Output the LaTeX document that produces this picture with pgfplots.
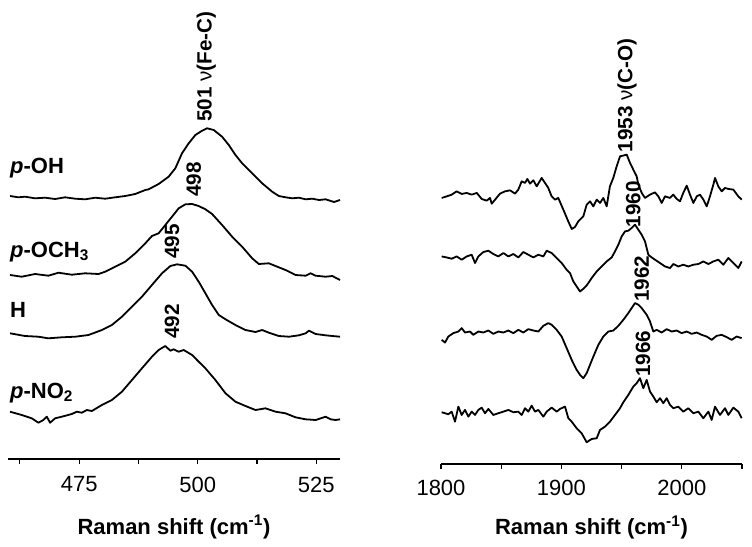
\documentclass[border=0pt]{standalone}
\usepackage{fontspec}
\setmainfont{Liberation Sans}
\usepackage{pgfplots}
\pgfplotsset{compat=1.18}

\pgfplotsset{
  spec/.style={
    scale only axis, clip=false,
    axis x line=bottom, axis y line=none,
    x axis line style={-, line width=0.9pt},
    tick align=outside,
    major tick length=3.75pt, minor tick length=3.75pt,
    every tick/.style={black, line width=0.9pt},
    /pgf/number format/assume math mode=true,
    /pgf/number format/1000 sep={},
    xticklabel style={font=\fontsize{16.5}{19}\selectfont, yshift=-6pt},
    xlabel style={font=\bfseries\fontsize{16.5}{19}\selectfont, anchor=center},
  },
  curve/.style={black, line width=1.35pt, line join=round, mark=none},
}
\tikzset{
  pk/.style={rotate=90, anchor=west, inner sep=0pt, font=\bfseries\fontsize{15.5}{18}\selectfont},
  row/.style={anchor=base west, inner sep=0pt, font=\bfseries\fontsize{16.5}{19}\selectfont},
}

\begin{document}
\begin{tikzpicture}
\path[use as bounding box] (0pt,0pt) rectangle (564pt,-409.5pt);

% ---------------- left panel ----------------
\begin{axis}[spec,
  at={(6pt,-344.25pt)}, anchor=south west,
  width=249pt, height=344.25pt,
  xmin=460, xmax=530, ymin=-459, ymax=0,
  xtick={475,500,525}, minor xtick={462.5,487.5,512.5},
  xlabel={Raman shift (cm\textsuperscript{-1})},
  xlabel style={at={(axis description cs:0.5,0)}, yshift=-51pt},
]
% p-OH
\addplot[curve] coordinates {
(460.43,-196.0)(462.19,-197.3)(463.59,-196.7)(465.71,-198.3)(467.82,-197.7)
(469.93,-199.0)(472.04,-197.3)(474.16,-198.7)(476.27,-199.3)(478.38,-197.7)
(480.49,-198.7)(482.61,-197.3)(484.72,-196.0)(486.83,-194.0)(488.95,-190.0)
(489.65,-189.3)(491.76,-184.0)(493.87,-176.7)(495.28,-168.3)(496.69,-153.3)
(498.10,-143.3)(499.51,-135.0)(500.92,-130.7)(501.97,-128.3)(503.38,-130.0)
(505.14,-136.7)(506.55,-145.0)(507.96,-155.0)(509.37,-163.3)(511.48,-173.3)
(513.59,-183.3)(515.70,-191.7)(517.11,-196.0)(518.52,-197.3)(519.93,-198.3)
(521.34,-197.7)(522.75,-199.3)(524.16,-198.7)(525.57,-200.0)(526.97,-199.3)
(528.73,-202.0)(530.00,-200.0)
};
% p-OCH3
\addplot[curve] coordinates {
(460.43,-275.0)(462.89,-276.7)(465.71,-274.0)(468.52,-275.7)(470.64,-272.7)
(473.45,-274.7)(476.27,-273.3)(479.09,-274.0)(480.49,-271.7)(482.61,-266.7)
(484.72,-261.7)(486.83,-253.3)(488.95,-243.3)(490.35,-236.0)(491.76,-233.3)
(493.17,-225.0)(494.58,-216.7)(495.99,-208.3)(497.40,-204.3)(498.81,-204.0)
(500.21,-206.0)(501.62,-209.3)(503.03,-214.0)(505.14,-225.0)(507.26,-236.7)
(509.37,-246.7)(511.48,-258.3)(512.89,-264.0)(515.00,-263.3)(516.41,-266.0)
(518.52,-270.0)(520.63,-275.0)(522.75,-275.7)(523.80,-273.3)(524.86,-275.7)
(526.97,-276.7)(528.38,-276.0)(530.00,-280.0)
};
% H
\addplot[curve] coordinates {
(460.43,-333.3)(463.59,-336.0)(466.41,-336.7)(468.52,-338.3)(471.34,-337.3)
(474.16,-336.7)(476.97,-335.0)(479.79,-330.0)(481.90,-325.0)(484.02,-316.7)
(486.13,-306.7)(488.24,-296.7)(490.35,-285.0)(492.47,-273.3)(494.23,-266.0)
(495.64,-264.3)(497.40,-265.7)(498.81,-271.7)(500.21,-281.7)(501.62,-293.3)
(503.03,-305.0)(504.45,-315.0)(505.86,-319.3)(507.96,-325.0)(510.07,-330.0)
(512.19,-332.0)(513.59,-330.0)(515.00,-332.7)(517.11,-336.0)(519.23,-336.7)
(521.34,-335.3)(522.75,-333.3)(523.45,-330.7)(524.86,-334.0)(526.97,-335.3)
(528.38,-336.0)(530.00,-336.7)
};
% p-NO2
\addplot[curve] coordinates {
(460.43,-411.7)(462.89,-415.0)(465.00,-418.3)(466.41,-422.7)(467.47,-420.0)
(468.17,-416.7)(468.88,-422.7)(469.93,-418.3)(471.34,-416.7)(473.45,-414.0)
(474.51,-411.7)(475.57,-412.7)(476.62,-410.0)(477.68,-411.0)(479.79,-405.0)
(481.90,-400.0)(484.02,-391.7)(486.13,-380.0)(488.24,-368.3)(490.35,-356.7)
(491.76,-350.0)(493.17,-346.0)(494.23,-350.7)(494.93,-349.3)(495.99,-351.7)
(497.04,-350.0)(498.81,-355.0)(500.21,-361.7)(501.62,-368.3)(503.73,-380.0)
(505.86,-393.3)(507.96,-401.7)(510.07,-406.0)(512.19,-410.0)(514.30,-408.3)
(516.41,-411.7)(518.52,-413.3)(520.63,-417.3)(522.75,-419.3)(524.86,-420.0)
(526.97,-416.7)(528.03,-419.3)(529.08,-420.0)(530.00,-419.3)
};
\node[pk] at (axis cs:501.8,-122) {501 {\mdseries ν}(Fe-C)};
\node[pk] at (axis cs:499.15,-197) {498};
\node[pk] at (axis cs:494.6,-259) {495};
\node[pk] at (axis cs:494.6,-339) {492};
\node[row] at (axis cs:460.4,-173) {\textit{p}-OH};
\node[row] at (axis cs:460.4,-257) {\textit{p}-OCH\textsubscript{3}};
\node[row] at (axis cs:460.4,-317) {H};
\node[row] at (axis cs:460.4,-398) {\textit{p}-NO\textsubscript{2}};
\end{axis}

% ---------------- right panel ----------------
\begin{axis}[spec,
  at={(330.75pt,-348pt)}, anchor=south west,
  width=225.75pt, height=348pt,
  xmin=1800, xmax=2050, ymin=-464, ymax=0,
  xtick={1800,1900,2000}, minor xtick={1850,1950,2050},
  xlabel={Raman shift (cm\textsuperscript{-1})},
  xlabel style={at={(axis description cs:0.5,0)}, yshift=-47.5pt},
  xticklabel style={yshift=1pt},
]
% p-OH
\addplot[curve] coordinates {
(1800.6,-198.3)(1804.7,-196.7)(1808.9,-195.0)(1813.0,-191.7)(1817.2,-194.3)
(1821.3,-193.3)(1825.5,-195.0)(1829.7,-193.3)(1833.8,-199.3)(1838.0,-201.0)
(1840.7,-198.3)(1842.1,-204.0)(1844.9,-200.0)(1849.0,-194.0)(1853.2,-191.7)
(1857.3,-190.7)(1861.5,-194.0)(1864.2,-190.0)(1867.0,-181.7)(1869.8,-183.3)
(1871.7,-179.3)(1873.9,-184.0)(1876.7,-180.7)(1879.5,-186.7)(1883.6,-178.3)
(1886.4,-183.3)(1889.1,-188.3)(1891.9,-196.7)(1894.7,-200.0)(1897.4,-198.3)
(1901.6,-210.0)(1905.7,-221.7)(1908.6,-229.3)(1911.3,-227.3)(1914.0,-221.7)
(1918.2,-216.7)(1921.0,-205.0)(1923.8,-201.7)(1926.5,-206.7)(1929.3,-200.0)
(1932.1,-203.3)(1934.8,-198.3)(1937.6,-206.7)(1940.3,-186.7)(1943.1,-178.3)
(1945.9,-166.7)(1948.7,-156.7)(1951.4,-156.0)(1954.2,-155.0)(1957.0,-163.3)
(1959.7,-170.0)(1962.5,-176.7)(1963.9,-185.0)(1966.7,-193.3)(1969.4,-198.3)
(1973.6,-195.0)(1977.7,-192.7)(1980.5,-196.7)(1983.3,-203.3)(1986.0,-196.7)
(1990.2,-198.3)(1992.9,-195.0)(1995.8,-199.3)(1998.5,-201.7)(2001.2,-193.3)
(2004.1,-186.0)(2006.8,-195.0)(2009.6,-203.3)(2012.4,-196.7)(2015.1,-195.0)
(2017.9,-200.0)(2020.7,-206.7)(2023.4,-196.7)(2026.2,-185.0)(2027.6,-178.3)
(2030.3,-186.7)(2033.1,-191.7)(2035.9,-188.3)(2038.6,-189.3)(2042.8,-190.0)
(2046.9,-196.7)(2049.8,-200.0)
};
% p-OCH3
\addplot[curve] coordinates {
(1800.55,-256.7)(1804.71,-257.7)(1808.86,-259.0)(1813.01,-256.7)(1817.17,-260.0)
(1821.32,-256.7)(1825.47,-255.0)(1828.24,-263.3)(1831.01,-256.7)(1835.16,-252.3)
(1839.32,-251.0)(1843.47,-254.3)(1847.62,-256.7)(1851.77,-253.3)(1855.93,-256.7)
(1860.08,-254.3)(1864.23,-257.7)(1868.38,-252.3)(1872.53,-255.0)(1876.69,-257.7)
(1880.84,-255.0)(1884.99,-256.7)(1887.76,-251.0)(1891.92,-253.3)(1896.07,-258.3)
(1900.22,-263.3)(1904.37,-270.0)(1907.14,-273.3)(1909.91,-281.7)(1912.68,-286.7)
(1915.45,-291.7)(1918.22,-289.0)(1920.98,-285.7)(1925.14,-278.3)(1929.29,-271.7)
(1933.44,-266.7)(1937.60,-261.7)(1941.75,-257.7)(1944.52,-251.7)(1947.29,-245.0)
(1950.05,-236.7)(1952.82,-231.7)(1955.59,-231.0)(1958.36,-228.3)(1961.13,-225.0)
(1963.90,-230.0)(1966.66,-235.0)(1969.43,-241.7)(1972.20,-255.0)(1974.97,-257.7)
(1977.74,-260.0)(1981.89,-263.3)(1986.04,-266.7)(1990.20,-268.3)(1992.97,-264.3)
(1997.12,-266.7)(2001.27,-265.0)(2005.42,-266.7)(2009.58,-265.0)(2013.73,-264.3)
(2017.88,-261.7)(2022.03,-264.3)(2026.19,-261.7)(2030.34,-260.0)(2034.49,-265.0)
(2038.64,-258.3)(2042.80,-263.3)(2046.95,-268.3)(2049.72,-261.7)
};
% H
\addplot[curve] coordinates {
(1800.55,-340.0)(1803.32,-342.7)(1806.09,-336.7)(1810.24,-333.3)(1814.40,-331.7)
(1817.17,-328.3)(1819.93,-332.7)(1824.09,-331.7)(1826.86,-335.0)(1831.01,-331.7)
(1835.16,-332.7)(1839.32,-330.7)(1843.47,-334.0)(1847.62,-331.7)(1851.77,-332.7)
(1855.93,-330.7)(1860.08,-333.3)(1864.23,-330.0)(1868.38,-332.7)(1872.53,-329.3)
(1876.69,-330.7)(1880.84,-331.7)(1884.99,-326.0)(1889.14,-323.3)(1891.92,-325.0)
(1896.07,-330.0)(1900.22,-336.7)(1904.37,-348.3)(1908.53,-360.0)(1912.68,-370.0)
(1915.45,-375.0)(1918.22,-378.3)(1920.98,-373.3)(1923.76,-365.0)(1926.53,-356.7)
(1930.68,-345.0)(1934.83,-336.7)(1938.98,-331.7)(1943.13,-330.7)(1947.29,-326.0)
(1951.44,-320.0)(1955.59,-313.3)(1958.36,-308.3)(1961.13,-303.3)(1963.90,-305.0)
(1966.66,-308.3)(1970.82,-315.0)(1973.59,-321.7)(1976.35,-331.7)(1979.12,-330.0)
(1983.27,-332.7)(1987.43,-329.3)(1991.58,-331.7)(1995.73,-330.7)(1999.89,-333.3)
(2004.04,-331.7)(2008.19,-334.0)(2012.34,-332.7)(2016.50,-335.0)(2020.65,-336.7)
(2024.80,-340.0)(2028.96,-336.0)(2033.11,-335.0)(2037.26,-337.3)(2041.41,-340.0)
(2045.57,-336.7)(2049.72,-338.3)
};
% p-NO2
\addplot[curve] coordinates {
(1800.55,-412.3)(1803.32,-413.3)(1806.09,-414.3)(1808.86,-411.7)(1811.63,-421.7)
(1814.40,-406.7)(1817.17,-415.0)(1819.93,-410.0)(1822.70,-416.7)(1825.47,-411.7)
(1828.24,-415.0)(1831.01,-410.0)(1833.78,-407.7)(1836.55,-413.3)(1839.32,-409.0)
(1843.47,-415.0)(1847.62,-413.3)(1851.77,-411.7)(1855.93,-410.0)(1860.08,-412.3)
(1864.23,-411.7)(1867.00,-415.0)(1869.77,-408.3)(1872.53,-411.7)(1875.30,-405.7)
(1878.07,-411.7)(1880.84,-410.0)(1884.99,-416.7)(1887.76,-411.7)(1891.92,-407.7)
(1896.07,-411.7)(1898.84,-409.0)(1902.99,-406.7)(1905.76,-418.3)(1908.53,-421.7)
(1912.68,-428.3)(1916.83,-433.3)(1920.98,-442.3)(1925.14,-439.0)(1929.29,-438.3)
(1932.06,-430.0)(1936.21,-426.7)(1940.36,-421.7)(1944.52,-415.0)(1948.67,-408.3)
(1951.44,-402.3)(1955.59,-395.0)(1959.74,-386.7)(1962.51,-383.3)(1965.28,-378.3)
(1968.05,-388.3)(1970.82,-380.0)(1973.59,-391.7)(1976.35,-396.7)(1979.12,-402.3)
(1981.89,-398.3)(1984.66,-403.3)(1987.43,-398.3)(1990.20,-405.0)(1992.97,-408.3)
(1997.12,-406.7)(2001.27,-411.7)(2005.42,-408.3)(2009.58,-413.3)(2013.73,-411.7)
(2017.88,-418.3)(2022.03,-411.7)(2024.80,-420.0)(2027.57,-406.7)(2031.72,-415.0)
(2035.87,-408.3)(2038.64,-415.0)(2042.80,-407.7)(2046.95,-411.7)(2049.72,-418.3)
};
\node[pk] at (axis cs:1954.5,-153) {1953 {\mdseries ν}(C-O)};
\node[pk] at (axis cs:1959.7,-228) {1960};
\node[pk] at (axis cs:1966.7,-302) {1962};
\node[pk] at (axis cs:1967.8,-377) {1966};
\end{axis}
\end{tikzpicture}
\end{document}
